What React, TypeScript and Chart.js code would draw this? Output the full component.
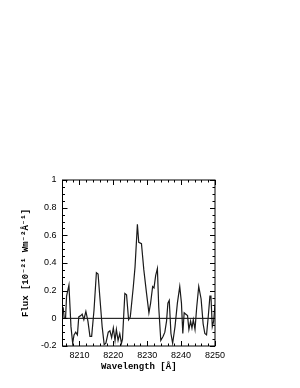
import React, { useEffect, useRef } from "react";
import Chart from "chart.js/auto";

const wavelengths: number[] = [
  8205.2, 8205.5, 8205.9, 8206.2, 8206.9, 8207.5, 8208.0, 8208.4, 8208.9, 8209.4,
  8209.8, 8210.4, 8210.8, 8211.3, 8211.9, 8212.5, 8213.1, 8213.6, 8214.3, 8215.0,
  8215.5, 8216.0, 8216.7, 8217.3, 8217.8, 8218.5, 8219.0, 8219.5, 8220.0, 8220.5,
  8220.9, 8221.4, 8221.9, 8222.4, 8222.7, 8223.4, 8223.9, 8224.5, 8225.0, 8225.9,
  8226.4, 8227.1, 8227.5, 8228.3, 8229.0, 8229.8, 8230.5, 8231.0, 8231.6, 8232.0,
  8232.5, 8233.0, 8233.4, 8234.0, 8234.7, 8235.2, 8235.7, 8236.1, 8236.5, 8237.0,
  8237.5, 8238.2, 8238.9, 8239.6, 8240.1, 8240.5, 8240.9, 8241.4, 8241.9, 8242.3,
  8242.8, 8243.2, 8243.6, 8244.1, 8244.6, 8245.2, 8245.9, 8246.5, 8247.0, 8247.5,
  8248.0, 8248.5, 8248.8, 8249.2, 8249.6, 8250.0,
];

const flux: number[] = [
  0.08, 0.0, 0.0, 0.16, 0.24, -0.06, -0.18, -0.12, -0.1, -0.12,
  0.01, 0.02, 0.03, -0.01, 0.05, -0.02, -0.13, -0.13, 0.06, 0.33,
  0.32, 0.16, -0.06, -0.19, -0.18, -0.1, -0.09, -0.14, -0.07, -0.16,
  -0.08, -0.16, -0.11, -0.18, -0.15, 0.18, 0.17, -0.01, 0.01, 0.23,
  0.37, 0.68, 0.55, 0.54, 0.35, 0.18, 0.04, 0.11, 0.23, 0.22,
  0.31, 0.36, 0.08, -0.16, -0.13, -0.1, -0.02, 0.11, 0.13, -0.11,
  -0.18, -0.06, 0.11, 0.23, 0.11, -0.11, 0.04, 0.03, 0.02, -0.08,
  -0.02, -0.07, -0.01, -0.08, 0.08, 0.23, 0.14, -0.04, -0.11, -0.12,
  0.01, 0.16, 0.16, -0.06, -0.02, 0.1,
];

const xRange: number[] = [8205, 8250];
const yRange: number[] = [-0.2, 1];
const xTickValues: number[] = [8210, 8220, 8230, 8240, 8250];
const yTickValues: number[] = [-0.2, 0, 0.2, 0.4, 0.6, 0.8, 1];
const xMajorStep = 10;
const xMinorStep = 2;
const yMajorStep = 0.2;
const yMinorStep = 0.05;

const xTitle = "Wavelength [Å]";
const yTitle = "Flux [10⁻²¹ Wm⁻²Å⁻¹]";

const framePlugin = {
  id: "frameTicks",
  afterDatasetsDraw(chart: any) {
    const { ctx, chartArea: a, scales } = chart;
    const xs = scales.x;
    const ys = scales.y;
    ctx.save();
    ctx.strokeStyle = "#000";
    ctx.lineWidth = 1;
    ctx.strokeRect(a.left, a.top, a.right - a.left, a.bottom - a.top);
    const major = 5;
    const minor = 2.5;
    const x0 = Math.ceil(xRange[0] / xMinorStep) * xMinorStep;
    ctx.beginPath();
    for (let v = x0; v <= xRange[1] + 1e-6; v += xMinorStep) {
      const px = Math.round(xs.getPixelForValue(v)) + 0.5;
      const len = Math.abs(v % xMajorStep) < 1e-6 ? major : minor;
      ctx.moveTo(px, a.bottom);
      ctx.lineTo(px, a.bottom - len);
      ctx.moveTo(px, a.top);
      ctx.lineTo(px, a.top + len);
    }
    const ny = Math.round((yRange[1] - yRange[0]) / yMinorStep);
    for (let i = 0; i <= ny; i++) {
      const v = yRange[0] + i * yMinorStep;
      const py = Math.round(ys.getPixelForValue(v)) + 0.5;
      const r = Math.abs(v / yMajorStep - Math.round(v / yMajorStep)) < 1e-6;
      const len = r ? major : minor;
      ctx.moveTo(a.left, py);
      ctx.lineTo(a.left + len, py);
      ctx.moveTo(a.right, py);
      ctx.lineTo(a.right - len, py);
    }
    ctx.stroke();
    ctx.restore();
  },
};

export default function App() {
  const ref = useRef<HTMLCanvasElement | null>(null);
  useEffect(() => {
    if (!ref.current) return;
    const tickFont = { family: "'Liberation Sans', Arial, sans-serif", size: 9 };
    const titleFont = { family: "'Liberation Mono', 'Courier New', monospace", size: 9, weight: "bold" as const };
    const chart = new Chart(ref.current, {
      type: "line",
      data: {
        datasets: [
          {
            data: wavelengths.map((w, i) => ({ x: w, y: flux[i] })),
            borderColor: "#1a1a1a",
            borderWidth: 1.2,
            pointRadius: 0,
            tension: 0,
          },
          {
            data: [
              { x: xRange[0], y: 0 },
              { x: xRange[1], y: 0 },
            ],
            borderColor: "#000",
            borderWidth: 1,
            pointRadius: 0,
          },
        ],
      },
      options: {
        responsive: false,
        animation: false,
        events: [],
        layout: { padding: { top: 180, left: 0, right: 85, bottom: 0 } },
        plugins: { legend: { display: false }, tooltip: { enabled: false } },
        scales: {
          x: {
            type: "linear",
            min: xRange[0],
            max: xRange[1],
            grid: { display: false, drawTicks: false },
            border: { display: false },
            afterBuildTicks: (s: any) => { s.ticks = xTickValues.map((v) => ({ value: v })); },
            ticks: { color: "#000", font: tickFont, padding: 4, maxRotation: 0, autoSkip: false,
              callback: (v: any) => String(v) },
            title: { display: true, text: xTitle, color: "#000", font: titleFont, padding: { top: 0, bottom: 16 } },
            afterFit: (s: any) => { s.height = 42; },
          },
          y: {
            min: yRange[0],
            max: yRange[1],
            grid: { display: false, drawTicks: false },
            border: { display: false },
            afterBuildTicks: (s: any) => { s.ticks = yTickValues.map((v) => ({ value: v })); },
            ticks: { color: "#000", font: tickFont, padding: 6, autoSkip: false,
              callback: (v: any) => String(Math.round(Number(v) * 10) / 10) },
            title: { display: true, text: yTitle, color: "#000", font: titleFont, padding: { top: 20, bottom: 0 } },
            afterFit: (s: any) => { s.width = 62.5; },
          },
        },
      },
      plugins: [framePlugin],
    } as any);
    return () => chart.destroy();
  }, []);
  return (
    <div style={{ position: "absolute", left: 0, top: 0, width: 300, height: 388, background: "#fff" }}>
      <canvas ref={ref} width={300} height={388} style={{ display: "block" }} />
    </div>
  );
}
